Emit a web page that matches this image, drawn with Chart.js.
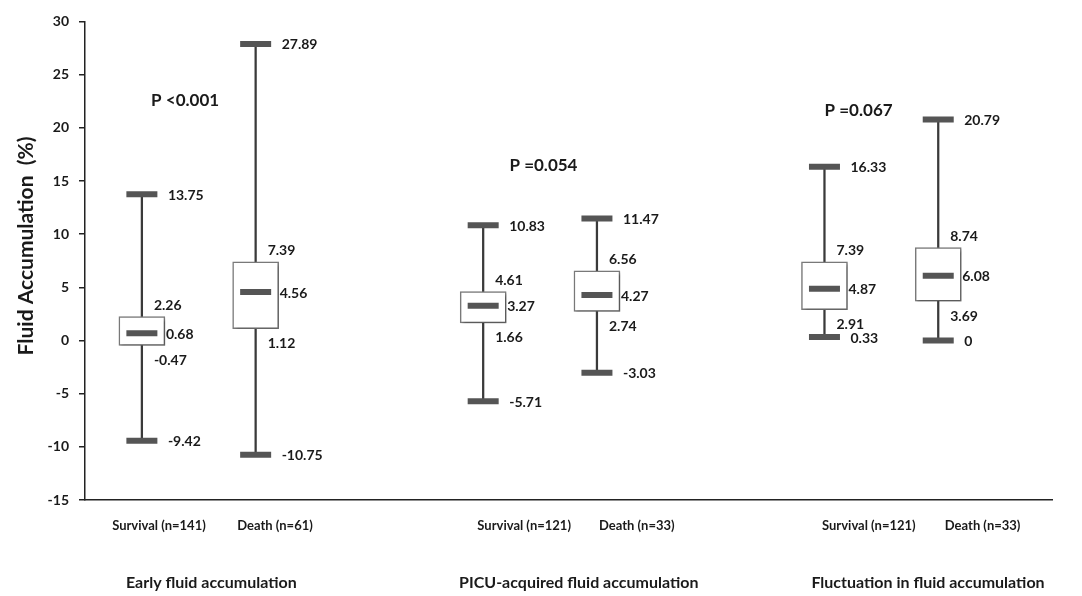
<!DOCTYPE html>
<html>
<head>
<meta charset="utf-8">
<script src="https://cdn.jsdelivr.net/npm/chart.js@4.4.1/dist/chart.umd.min.js"></script>
<style>
  html, body { margin: 0; padding: 0; background: #fff; }
  #wrap { width: 1082px; height: 596px; position: relative; }
</style>
</head>
<body>
<div id="wrap"><canvas id="chart"></canvas></div>
<script>
// box plot values
const groupNames = ["Early fluid accumulation", "PICU-acquired fluid accumulation", "Fluctuation in fluid accumulation"];
const boxNames = ["Survival (n=141)", "Death (n=61)", "Survival (n=121)", "Death (n=33)", "Survival (n=121)", "Death (n=33)"];
const boxPos = [1, 2, 4, 5, 7, 8];
const minVals = [-9.42, -10.75, -5.71, -3.03, 0.33, 0];
const q1Vals = [-0.47, 1.12, 1.66, 2.74, 2.91, 3.69];
const medianVals = [0.68, 4.56, 3.27, 4.27, 4.87, 6.08];
const q3Vals = [2.26, 7.39, 4.61, 6.56, 7.39, 8.74];
const maxVals = [13.75, 27.89, 10.83, 11.47, 16.33, 20.79];
const pValues = ["P <0.001", "P =0.054", "P =0.067"];
const yTicks = [-15, -10, -5, 0, 5, 10, 15, 20, 25, 30];

// where the free text sits (x in box units, y in % units)
const pAt = [[1.38, 22.6], [4.53, 16.5], [7.3, 21.6]];
const boxNameX = [1.15, 2.17, 4.36, 5.35, 7.39, 8.39];
const groupNameX = [1.61, 4.84, 7.91];

const FONT = "Lato, 'Open Sans', sans-serif";

const textPlugin = {
    id: 'textPlugin',
    beforeDatasetDraw(chart, args) {
        if (args.index === 1) {
            const ctx = chart.ctx;
            ctx.save();
            ctx.shadowColor = 'rgba(0,0,0,0.35)';
            ctx.shadowOffsetX = 2;
            ctx.shadowOffsetY = 2;
            ctx.shadowBlur = 3;
        }
    },
    afterDatasetDraw(chart, args) {
        if (args.index === 1) chart.ctx.restore();
    },
    afterDraw(chart) {
        const ctx = chart.ctx;
        const xs = chart.scales.x;
        const ys = chart.scales.y;
        ctx.save();
        ctx.fillStyle = '#1a1a1a';

        // value labels beside each box
        ctx.font = "bold 14px " + FONT;
        ctx.textAlign = 'left';
        ctx.textBaseline = 'middle';
        boxPos.forEach((p, i) => {
            const cx = xs.getPixelForValue(p);
            ctx.fillText(String(maxVals[i]), cx + 26, ys.getPixelForValue(maxVals[i]) + 1);
            ctx.fillText(String(q3Vals[i]), cx + 12, ys.getPixelForValue(q3Vals[i]) - 11);
            ctx.fillText(String(medianVals[i]), cx + 24, ys.getPixelForValue(medianVals[i]) + 1);
            ctx.fillText(String(q1Vals[i]), cx + 12, ys.getPixelForValue(q1Vals[i]) + 15);
            ctx.fillText(String(minVals[i]), cx + 26, ys.getPixelForValue(minVals[i]) + 1);
        });

        // p values
        ctx.font = "bold 17px " + FONT;
        ctx.textAlign = 'center';
        pValues.forEach((t, i) => {
            ctx.fillText(t, xs.getPixelForValue(pAt[i][0]), ys.getPixelForValue(pAt[i][1]));
        });

        // labels under the axis
        ctx.font = "bold 13px " + FONT;
        boxNames.forEach((t, i) => {
            ctx.fillText(t, xs.getPixelForValue(boxNameX[i]), 526);
        });
        ctx.font = "bold 16px " + FONT;
        groupNames.forEach((t, i) => {
            ctx.fillText(t, xs.getPixelForValue(groupNameX[i]), 583);
        });

        // y axis title
        ctx.font = "bold 21px " + FONT;
        ctx.translate(26, 246);
        ctx.rotate(-Math.PI / 2);
        ctx.fillText("Fluid Accumulation  (%)", 0, 0);
        ctx.restore();
    }
};

const ctx = document.getElementById('chart').getContext('2d');
new Chart(ctx, {
    type: 'bar',
    data: {
        datasets: [
            {
                // whiskers
                label: 'range',
                data: boxPos.map((p, i) => ({ x: p, y: [minVals[i], maxVals[i]] })),
                backgroundColor: '#3a3a3a',
                borderWidth: 0,
                barThickness: 1.6,
                grouped: false,
                order: 3
            },
            {
                label: 'iqr',
                data: boxPos.map((p, i) => ({ x: p, y: [q1Vals[i], q3Vals[i]] })),
                backgroundColor: '#ffffff',
                borderColor: '#7a7a7a',
                borderWidth: 1.5,
                borderSkipped: false,
                barThickness: 46,
                grouped: false,
                order: 2
            },
            {
                type: 'scatter',
                label: 'caps',
                data: boxPos.flatMap((p, i) => [
                    { x: p, y: minVals[i] },
                    { x: p, y: maxVals[i] },
                    { x: p, y: medianVals[i] }
                ]),
                pointStyle: 'line',
                radius: 15.5,
                borderColor: '#555555',
                borderWidth: 6,
                order: 1
            }
        ]
    },
    options: {
        responsive: true,
        maintainAspectRatio: false,
        animation: false,
        events: [],
        layout: { padding: { top: 14, right: 30, left: 0, bottom: 0 } },
        plugins: {
            legend: { display: false },
            tooltip: { enabled: false }
        },
        scales: {
            x: {
                type: 'linear',
                min: 0.5,
                max: 9.0,
                offset: false,
                grid: { display: false, drawTicks: false },
                border: { display: true, color: '#222', width: 1.5 },
                ticks: { display: false },
                afterFit(scale) { scale.height = 96; }
            },
            y: {
                min: -15,
                max: 30,
                afterBuildTicks(scale) { scale.ticks = yTicks.map(v => ({ value: v })); },
                grid: { drawOnChartArea: false, tickLength: 6, color: '#222', lineWidth: 1.5 },
                border: { display: true, color: '#222', width: 1.5 },
                ticks: {
                    padding: 10,
                    color: '#1a1a1a',
                    font: { family: FONT, size: 14, weight: 'bold' }
                },
                afterFit(scale) { scale.width = 85; }
            }
        }
    },
    plugins: [textPlugin]
});
</script>
</body>
</html>
